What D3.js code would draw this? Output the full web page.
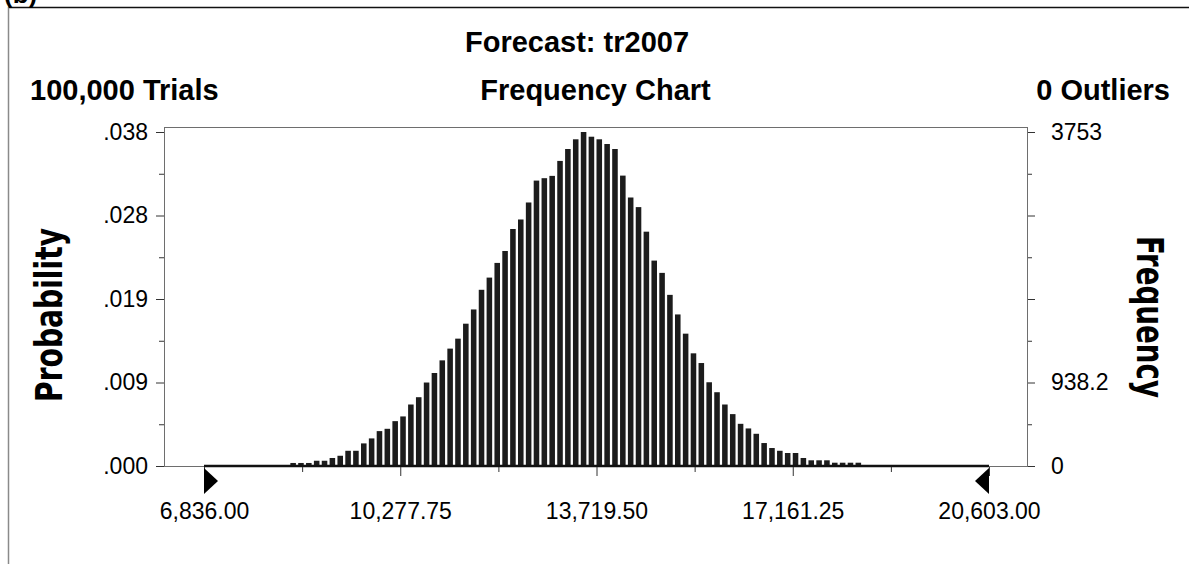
<!DOCTYPE html>
<html>
<head>
<meta charset="utf-8">
<script src="https://cdn.jsdelivr.net/npm/d3@7"></script>
<style>
  body { margin: 0; background: #fff; }
  svg { display: block; font-family: "Liberation Sans", Arial, sans-serif; }
</style>
</head>
<body>
<div id="chart"></div>
<script>
// forecast data
const title = 'Forecast: tr2007';
const trials = 100000;
const outliers = 0;
const binLow = 6836;
const binHigh = 20603;
// frequency per bin (100 bins between binLow and binHigh)
const freq = [
  1, 0, 0, 0, 0, 0, 0, 0, 0, 0,
  0, 34, 34, 34, 59, 59, 90, 115, 171, 171,
  254, 310, 392, 418, 504, 557, 691, 773, 938, 1045,
  1187, 1319, 1431, 1599, 1759, 1980, 2117, 2282, 2416, 2663,
  2770, 2961, 3207, 3234, 3260, 3428, 3562, 3671, 3753, 3700,
  3671, 3618, 3562, 3263, 3017, 2909, 2633, 2308, 2170, 1923,
  1703, 1487, 1266, 1157, 941, 829, 691, 583, 474, 422,
  362, 258, 202, 171, 146, 146, 90, 64, 64, 64,
  37, 37, 37, 37, 0, 0, 0, 0, 0, 0,
  0, 0, 0, 0, 0, 0, 0, 0, 0, 1
];
const xTickValues = [6836, 10277.75, 13719.5, 17161.25, 20603];
const rightTickLabels = ['0', '938.2', '', '', '3753'];

const w = 1189;
const h = 564;
const plot = { left: 164, right: 1027, top: 127, bottom: 466 };

const svg = d3.select('#chart').append('svg').attr('width', w).attr('height', h);

const maxFreq = d3.max(freq);
const nBins = freq.length;
const binW = (binHigh - binLow) / nBins;

const xScale = d3.scaleLinear().domain([binLow, binHigh]).range([204, 989]);
const yScale = d3.scaleLinear().domain([0, maxFreq]).range([plot.bottom, 132]);

const yMajor = d3.range(5).map(i => maxFreq * i / 4);
const yMinor = d3.range(4).map(i => maxFreq * (2 * i + 1) / 8);
const xMinor = d3.range(4).map(i => (xTickValues[i] + xTickValues[i + 1]) / 2);

// outer panel border
svg.append('line').attr('x1', 8).attr('x2', w).attr('y1', 7.5).attr('y2', 7.5)
   .attr('stroke', '#111').attr('stroke-width', 1.5);
svg.append('line').attr('x1', 8.5).attr('x2', 8.5).attr('y1', 7).attr('y2', h)
   .attr('stroke', '#8a8a8a').attr('stroke-width', 1.5);
svg.append('text').attr('x', 4).attr('y', 3).attr('font-size', 26).attr('font-weight', 'bold').text('(b)');

// titles
svg.append('text').attr('x', 577).attr('y', 52).attr('text-anchor', 'middle')
   .attr('font-size', 29).attr('font-weight', 'bold').text(title);
svg.append('text').attr('x', 30).attr('y', 100)
   .attr('font-size', 29).attr('font-weight', 'bold').text(d3.format(',')(trials) + ' Trials');
svg.append('text').attr('x', (plot.left + plot.right) / 2).attr('y', 100).attr('text-anchor', 'middle')
   .attr('font-size', 29).attr('font-weight', 'bold').text('Frequency Chart');
svg.append('text').attr('x', 1170).attr('y', 100).attr('text-anchor', 'end')
   .attr('font-size', 29).attr('font-weight', 'bold').text(outliers + ' Outliers');

// plot frame
svg.append('rect')
   .attr('x', plot.left + 0.5).attr('y', plot.top + 0.5)
   .attr('width', plot.right - plot.left).attr('height', plot.bottom - plot.top)
   .attr('fill', 'none').attr('stroke', '#6e6e6e').attr('stroke-width', 1);

// bars
svg.selectAll('rect.bar')
   .data(freq)
   .enter()
   .append('rect')
   .attr('class', 'bar')
   .attr('x', (d, i) => xScale(binLow + i * binW))
   .attr('width', (d, i) => xScale(binLow + (i + 1) * binW) - xScale(binLow + i * binW) - 2.3)
   .attr('y', d => yScale(d))
   .attr('height', d => yScale(0) - yScale(d))
   .attr('fill', '#1c1c1c');

// thick baseline over the bins
svg.append('line')
   .attr('x1', xScale(binLow)).attr('x2', xScale(binHigh))
   .attr('y1', yScale(0)).attr('y2', yScale(0))
   .attr('stroke', '#111').attr('stroke-width', 2.5);

const styleAxis = (g) => {
    g.select('.domain').remove();
    g.selectAll('line').attr('stroke', '#333');
    g.selectAll('text').attr('font-size', 23).attr('fill', '#000')
     .attr('font-family', '"Liberation Sans", Arial, sans-serif');
};

// left axis (probability)
svg.append('g').attr('transform', `translate(${plot.left},0)`)
   .call(d3.axisLeft(yScale).tickValues(yMajor).tickSize(8).tickPadding(8)
           .tickFormat(d => d3.format('.3f')(d / trials).replace(/^0/, '')))
   .call(styleAxis);
svg.append('g').attr('transform', `translate(${plot.left},0)`)
   .call(d3.axisLeft(yScale).tickValues(yMinor).tickSize(5).tickFormat(''))
   .call(styleAxis);

// right axis (frequency)
svg.append('g').attr('transform', `translate(${plot.right + 1},0)`)
   .call(d3.axisRight(yScale).tickValues(yMajor).tickSize(7).tickPadding(16)
           .tickFormat((d, i) => rightTickLabels[i]))
   .call(styleAxis);
svg.append('g').attr('transform', `translate(${plot.right + 1},0)`)
   .call(d3.axisRight(yScale).tickValues(yMinor).tickSize(4).tickFormat(''))
   .call(styleAxis);

// bottom axis
svg.append('g').attr('transform', `translate(0,${plot.bottom + 1})`)
   .call(d3.axisBottom(xScale).tickValues(xTickValues).tickSize(9).tickPadding(27)
           .tickFormat(d3.format(',.2f')))
   .call(styleAxis);
svg.append('g').attr('transform', `translate(0,${plot.bottom + 1})`)
   .call(d3.axisBottom(xScale).tickValues(xMinor).tickSize(5).tickFormat(''))
   .call(styleAxis);

// range markers
const tri = (x0, dir) => `M${x0},468 L${x0 + dir * 14},481 L${x0},494 Z`;
svg.append('path').attr('d', tri(xScale(binLow), 1)).attr('fill', '#000');
svg.append('path').attr('d', tri(xScale(binHigh), -1)).attr('fill', '#000');

// axis titles
svg.append('text')
   .attr('transform', 'translate(62,315) rotate(-90)')
   .attr('text-anchor', 'middle')
   .attr('font-family', '"DejaVu Sans Condensed", "DejaVu Sans", sans-serif')
   .attr('font-weight', 'bold').attr('font-size', 37)
   .attr('textLength', 174).attr('lengthAdjust', 'spacingAndGlyphs')
   .text('Probability');
svg.append('text')
   .attr('transform', 'translate(1137,317) rotate(90)')
   .attr('text-anchor', 'middle')
   .attr('font-family', '"DejaVu Sans Condensed", "DejaVu Sans", sans-serif')
   .attr('font-weight', 'bold').attr('font-size', 37)
   .attr('textLength', 162).attr('lengthAdjust', 'spacingAndGlyphs')
   .text('Frequency');
</script>
</body>
</html>
